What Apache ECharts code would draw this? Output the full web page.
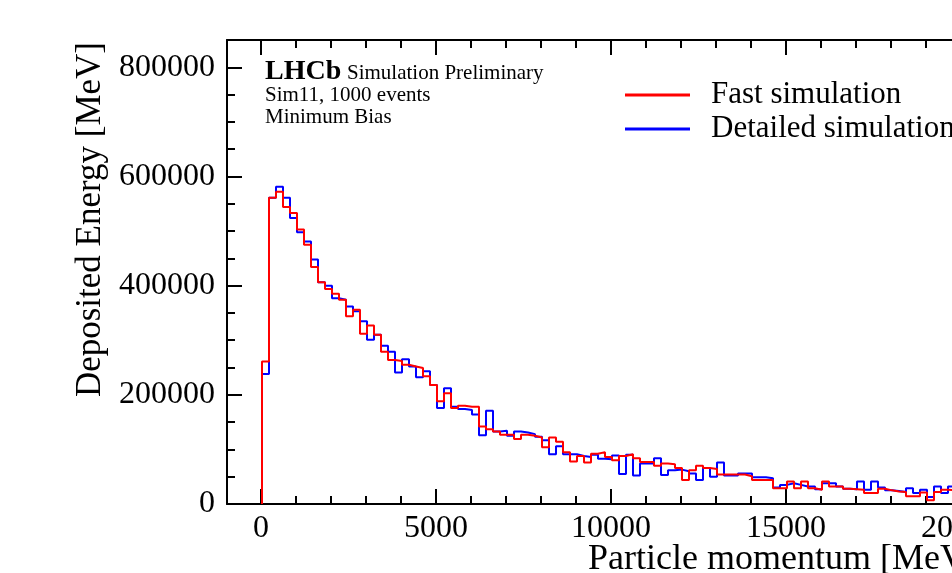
<!DOCTYPE html>
<html>
<head>
<meta charset="utf-8">
<script src="https://cdn.jsdelivr.net/npm/echarts@6/dist/echarts.min.js"></script>
<style>
html,body{margin:0;padding:0;background:#fff;}
#chart{width:952px;height:573px;}
</style>
</head>
<body>
<div id="chart"></div>
<script>
// ---- data ----
const binStart = 0;
const binWidth = 200; // MeV
const detailedSim = [238000,561000,581000,561000,524000,498000,481000,448000,406000,400000,
377000,374000,362000,353000,335000,301000,310000,290000,279000,241000,
265000,252000,232000,243000,218000,176000,212000,178000,174000,172000,
164000,126000,171000,133000,134000,125000,133000,131000,128000,123000,
117000,91000,106000,91000,91000,88000,86000,90000,83000,82000,
89000,55000,90000,52000,74000,74000,84000,53000,62000,63000,
60000,56000,44000,66000,50000,76000,52000,52000,56000,56000,
49000,49000,47000,30000,35000,38000,35000,32000,32000,27000,
38000,38000,32000,28000,27000,41000,26000,41000,30000,25000,
24000,22000,29000,20000,26000,13000,32000,20000,32000];
const fastSim = [261000,561000,572000,544000,533000,503000,475000,434000,406000,394000,
385000,374000,344000,356000,312000,327000,310000,279000,264000,262000,
255000,252000,249000,234000,218000,188000,203000,176000,180000,178000,
178000,142000,137000,133000,127000,127000,119000,127000,125000,122000,
104000,122000,114000,95000,78000,88000,76000,92000,95000,86000,
80000,88000,91000,84000,77000,77000,70000,74000,73000,66000,
44000,62000,70000,66000,64000,54000,54000,54000,54000,51000,
44000,44000,44000,29000,29000,41000,29000,41000,29000,26000,
41000,32000,32000,28000,27000,26000,20000,20000,28000,25000,
23000,22000,14000,14000,21000,7000,22000,26000,25000];
const seriesNames = ['Fast simulation', 'Detailed simulation'];
const xTitle = 'Particle momentum [MeV]';
const yTitle = 'Deposited Energy [MeV]';
const labelLHCb = 'LHCb';
const labelPrelim = 'Simulation Preliminary';
const labelLines = ['Sim11, 1000 events', 'Minimum Bias'];

const FONT = 'Liberation Serif';

function toSteps(vals) {
  const pts = [[binStart, 0]];
  vals.forEach(function (v, i) {
    pts.push([binStart + i * binWidth, v]);
    pts.push([binStart + (i + 1) * binWidth, v]);
  });
  return pts;
}
function plain(v) { return String(v); }

const chart = echarts.init(document.getElementById('chart'), null, {renderer: 'canvas'});

const frameLine = {show: true, onZero: false, lineStyle: {color: '#000', width: 2}};
const noLine = {show: false, onZero: false};
const majorTick = {show: true, inside: true, length: 15, lineStyle: {color: '#000', width: 2}};
const minorTickCfg = {show: true, splitNumber: 5, length: 8, lineStyle: {color: '#000', width: 2}};

const option = {
  animation: false,
  backgroundColor: '#fff',
  grid: [
    {left: 227, top: 40, width: 910, height: 464, containLabel: false, outerBoundsMode: 'none'},
    {left: 261, top: 40, width: 875, height: 464, containLabel: false, outerBoundsMode: 'none'}
  ],
  xAxis: [
    {gridIndex: 0, type: 'value', position: 'bottom', min: -1000, max: 25000,
      axisLine: frameLine, axisTick: {show: false}, axisLabel: {show: false}, splitLine: {show: false}},
    {gridIndex: 0, type: 'value', position: 'top', min: -1000, max: 25000,
      axisLine: frameLine, axisTick: {show: false}, axisLabel: {show: false}, splitLine: {show: false}},
    {gridIndex: 1, type: 'value', position: 'bottom', min: 0, max: 25000, interval: 5000,
      axisLine: noLine, axisTick: majorTick, minorTick: minorTickCfg,
      axisLabel: {show: true, margin: 9, color: '#000', fontFamily: FONT, fontSize: 32, formatter: plain},
      splitLine: {show: false}, minorSplitLine: {show: false}},
    {gridIndex: 1, type: 'value', position: 'top', min: 0, max: 25000, interval: 5000,
      axisLine: noLine, axisTick: majorTick, minorTick: minorTickCfg,
      axisLabel: {show: false}, splitLine: {show: false}, minorSplitLine: {show: false}}
  ],
  yAxis: [
    {gridIndex: 0, type: 'value', position: 'left', min: 0, max: 850000, interval: 200000,
      axisLine: frameLine, axisTick: majorTick,
      axisLabel: {show: true, margin: 12, color: '#000', fontFamily: FONT, fontSize: 32, showMaxLabel: false, formatter: plain},
      splitLine: {show: false}},
    {gridIndex: 0, type: 'value', position: 'left', min: 0, max: 850000, interval: 50000,
      axisLine: noLine, axisTick: {show: true, inside: true, length: 8, lineStyle: {color: '#000', width: 2}},
      axisLabel: {show: false}, splitLine: {show: false}},
    {gridIndex: 1, type: 'value', show: false, min: 0, max: 850000, axisLine: noLine}
  ],
  legend: {
    orient: 'vertical',
    left: 625,
    top: 78,
    padding: 0,
    itemGap: 0,
    itemWidth: 65,
    itemHeight: 3,
    icon: 'rect',
    data: seriesNames,
    textStyle: {color: '#000', fontFamily: FONT, fontSize: 31, lineHeight: 34, padding: [0, 0, 0, 16]}
  },
  series: [
    {name: seriesNames[1], type: 'line', xAxisIndex: 0, yAxisIndex: 0, data: toSteps(detailedSim),
      symbol: 'none', color: '#0000ff', lineStyle: {color: '#0000ff', width: 2}, clip: true, z: 2},
    {name: seriesNames[0], type: 'line', xAxisIndex: 0, yAxisIndex: 0, data: toSteps(fastSim),
      symbol: 'none', color: '#ff0000', lineStyle: {color: '#ff0000', width: 2}, clip: true, z: 3}
  ],
  graphic: [
    {type: 'text', x: 265, y: 71.5, style: {text: labelLHCb, fill: '#000', font: 'bold 28px "' + FONT + '"', verticalAlign: 'middle', align: 'left'}},
    {type: 'text', x: 347, y: 73.4, style: {text: labelPrelim, fill: '#000', font: '21px "' + FONT + '"', verticalAlign: 'middle', align: 'left'}},
    {type: 'text', x: 265, y: 95.4, style: {text: labelLines[0], fill: '#000', font: '21px "' + FONT + '"', verticalAlign: 'middle', align: 'left'}},
    {type: 'text', x: 265, y: 117.9, style: {text: labelLines[1], fill: '#000', font: '21px "' + FONT + '"', verticalAlign: 'middle', align: 'left'}},
    {type: 'text', x: 588, y: 560, style: {text: xTitle, fill: '#000', font: '36px "' + FONT + '"', verticalAlign: 'middle', align: 'left'}},
    {type: 'text', x: 91, y: 42, rotation: Math.PI / 2, style: {text: yTitle, fill: '#000', font: '35px "' + FONT + '"', verticalAlign: 'middle', align: 'right'}}
  ]
};
chart.setOption(option);
</script>
</body>
</html>
